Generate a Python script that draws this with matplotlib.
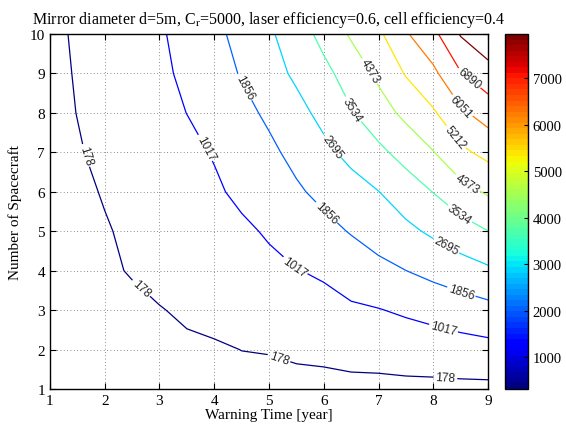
import numpy as np
import matplotlib
matplotlib.use("Agg")
import matplotlib.pyplot as plt
from matplotlib import colors, cm

# grid: warning time (x) and number of spacecraft (y)
warning_time = [1.0, 1.5, 2.0, 2.5, 3.0, 3.5, 4.0, 4.5, 5.0,
                5.5, 6.0, 6.5, 7.0, 7.5, 8.0, 8.5, 9.0]
spacecraft = [1, 2, 3, 4, 5, 6, 7, 8, 9, 10]

# one row of values per spacecraft count
row_1 = [0, 0, 0, 0, 0, 0, 0, 0, 0, 0, 0, 0, 0, 0, 0, 0, 0]
row_2 = [0, 0, 10, 30, 60, 90, 110, 184, 205, 278, 318, 414, 445, 540, 590, 690, 760]
row_3 = [0, 0, 0, 49, 153, 257, 361, 465, 569, 673, 820, 900, 985, 1129, 1290, 1450, 1611]
row_4 = [0, 0, 87, 217, 347, 477, 607, 737, 867, 997, 1100, 1417, 1635, 1852, 2088, 2325, 2562]
row_5 = [0, 0, 132, 286, 440, 594, 748, 902, 1087, 1358, 1628, 1905, 2209, 2513, 2835, 3184, 3525]
row_6 = [0, 45, 220, 396, 571, 747, 922, 1154, 1451, 1749, 2056, 2369, 2682, 3115, 3555, 4073, 4472]
row_7 = [0, 131, 313, 496, 678, 861, 1062, 1380, 1698, 2070, 2498, 2926, 3354, 3831, 4342, 5041, 5450]
row_8 = [0, 188, 396, 604, 812, 1023, 1332, 1640, 1990, 2436, 2927, 3479, 4025, 4569, 5114, 5900, 6416]
row_9 = [5, 222, 440, 659, 877, 1152, 1526, 1911, 2372, 2840, 3322, 3885, 4538, 5272, 5871, 6845, 7409]
row_10 = [30, 255, 480, 706, 931, 1265, 1664, 2101, 2573, 3139, 3780, 4478, 5060, 5969, 6684, 7790, 8350]

levels = [178, 1017, 1856, 2695, 3534, 4373, 5212, 6051, 6890, 7729]
cbar_ticks = [1000, 2000, 3000, 4000, 5000, 6000, 7000]
cbar_range = (317, 7955)

# where matlab put the inline labels
label_spots = [(1.63, 6.91), (2.61, 3.47), (5.17, 1.73), (8.22, 1.25),
               (3.86, 7.13), (5.48, 4.12), (8.19, 2.56),
               (4.50, 8.61), (6.10, 5.55), (8.50, 3.41),
               (6.18, 7.17), (8.22, 4.59),
               (6.48, 8.05), (8.43, 5.35),
               (6.85, 9.07), (8.59, 6.15),
               (8.37, 7.34), (8.50, 8.14), (8.62, 8.82)]

plt.rcParams["font.family"] = "Liberation Serif"
plt.rcParams["mathtext.fontset"] = "stix"

z = np.array([row_1, row_2, row_3, row_4, row_5,
              row_6, row_7, row_8, row_9, row_10], dtype=float)

fig = plt.figure(figsize=(5.66, 4.31), dpi=100)
ax = fig.add_axes([0.0883, 0.0951, 0.774, 0.8237])
cax = fig.add_axes([0.892, 0.0951, 0.0406, 0.8237])

jet64 = plt.get_cmap("jet", 64)
cs = ax.contour(warning_time, spacecraft, z, levels=levels, cmap="jet",
                norm=colors.Normalize(vmin=levels[0], vmax=levels[-1]),
                linewidths=0.9)
labels = ax.clabel(cs, fmt="%d", fontsize=8.5, colors="k",
                   manual=label_spots, inline_spacing=3)
for t in labels:
    t.set_fontfamily("Liberation Sans")
    t.set_color("0.15")

ax.set_xlim(1, 9)
ax.set_ylim(1, 10)
ax.set_xticks(range(1, 10))
ax.set_yticks(range(1, 11))
ax.grid(True, linestyle=(0, (1, 3)), color="0.4", linewidth=0.6)
ax.tick_params(direction="in", top=True, right=True, labelsize=11, length=4)
for s in ax.spines.values():
    s.set_linewidth(1.0)

ax.set_xlabel("Warning Time [year]", fontsize=11, labelpad=1)
ax.set_ylabel("Number of Spacecraft", fontsize=11, labelpad=6)
ax.set_title(r"Mirror diameter d=5m, C$_\mathrm{r}$=5000, laser efficiency=0.6, cell efficiency=0.4",
             fontsize=11.5, pad=8)

sm = cm.ScalarMappable(norm=colors.Normalize(*cbar_range), cmap=jet64)
cb = fig.colorbar(sm, cax=cax, ticks=cbar_ticks)
cb.ax.tick_params(direction="in", labelsize=10.5, length=3)
cb.outline.set_linewidth(1.0)

fig.savefig("out.png", dpi=100)
